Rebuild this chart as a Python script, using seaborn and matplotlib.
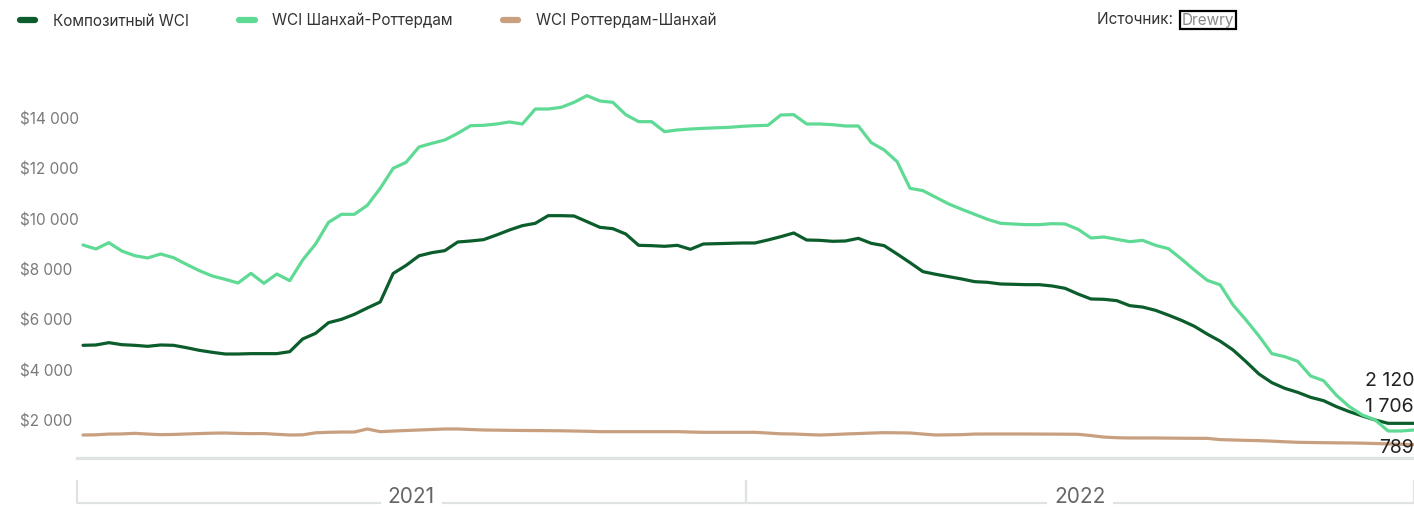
import numpy as np
import pandas as pd
import matplotlib
matplotlib.use("Agg")
import matplotlib.pyplot as plt
import seaborn as sns

# weekly WCI values, USD per 40ft container (Jan 2021 - Dec 2022)
composite = [5235, 5248, 5340, 5261, 5235, 5195, 5248, 5235, 5142, 5037,
             4958, 4891, 4891, 4905, 4905, 4905, 4984, 5486, 5710, 6132,
             6264, 6462, 6713, 6951, 8080, 8400, 8780, 8905, 8984, 9327,
             9367, 9420, 9604, 9802, 9974, 10067, 10370, 10370, 10357, 10133,
             9908, 9855, 9644, 9195, 9182, 9156, 9195, 9037, 9248, 9260,
             9274, 9288, 9288, 9406, 9538, 9684, 9406, 9393, 9354, 9367,
             9472, 9274, 9182, 8852, 8509, 8153, 8047, 7954, 7862, 7756,
             7730, 7664, 7651, 7637, 7637, 7585, 7492, 7268, 7070, 7057,
             7004, 6806, 6750, 6620, 6430, 6225, 5990, 5680, 5400, 5049,
             4588, 4099, 3756, 3531, 3373, 3175, 3043, 2805, 2607, 2436,
             2277, 2145, 2145, 2145]
shanghai_rotterdam = [9208, 9050, 9301, 8971, 8786, 8694, 8852, 8707, 8443, 8192,
                      7981, 7849, 7703, 8086, 7690, 8060, 7796, 8614, 9248, 10106,
                      10423, 10423, 10779, 11453, 12245, 12482, 13090, 13235, 13367, 13631,
                      13934, 13948, 14000, 14080, 14000, 14594, 14594, 14660, 14859, 15123,
                      14911, 14859, 14370, 14093, 14093, 13697, 13763, 13802, 13829, 13850,
                      13868, 13908, 13934, 13948, 14357, 14370, 14000, 14000, 13974, 13921,
                      13921, 13261, 12971, 12509, 11453, 11360, 11096, 10832, 10621, 10423,
                      10225, 10067, 10040, 10014, 10014, 10053, 10040, 9829, 9486, 9525,
                      9433, 9340, 9393, 9195, 9063, 8654, 8219, 7809, 7630, 6832,
                      6238, 5604, 4904, 4785, 4601, 4020, 3835, 3254, 2805, 2475,
                      2277, 1841, 1841, 1881]
rotterdam_shanghai = [1683, 1690, 1720, 1725, 1749, 1720, 1696, 1705, 1723, 1740,
                      1755, 1762, 1745, 1736, 1740, 1710, 1683, 1690, 1770, 1790,
                      1800, 1802, 1921, 1815, 1840, 1860, 1881, 1900, 1921, 1921,
                      1900, 1881, 1875, 1868, 1862, 1858, 1855, 1850, 1840, 1830,
                      1815, 1815, 1815, 1815, 1815, 1815, 1815, 1800, 1789, 1789,
                      1789, 1789, 1789, 1760, 1730, 1723, 1700, 1683, 1700, 1723,
                      1740, 1760, 1776, 1770, 1763, 1720, 1683, 1690, 1697, 1720,
                      1723, 1723, 1723, 1723, 1720, 1718, 1715, 1710, 1660, 1600,
                      1575, 1565, 1565, 1565, 1560, 1555, 1552, 1550, 1500, 1485,
                      1470, 1460, 1440, 1415, 1394, 1385, 1378, 1372, 1368, 1360,
                      1345, 1330, 1315, 1302]

series_names = ["Композитный WCI", "WCI Шанхай-Роттердам", "WCI Роттердам-Шанхай"]
series_colors = ["#0b5d2c", "#5fda94", "#c9a07f"]
end_labels = ["2 120", "1 706", "789"]
years = ["2021", "2022"]
y_ticks = [2000, 4000, 6000, 8000, 10000, 12000, 14000]

dates = pd.date_range("2021-01-07", periods=len(composite), freq="7D")
df = pd.DataFrame({"date": dates,
                   series_names[0]: composite,
                   series_names[1]: shanghai_rotterdam,
                   series_names[2]: rotterdam_shanghai})
long_df = df.melt(id_vars="date", var_name="series", value_name="value")

sns.set_style("white")
plt.rcParams["font.family"] = ["Inter", "DejaVu Sans"]

fig = plt.figure(figsize=(14.14, 5.07), dpi=100)
ax = fig.add_axes([77 / 1414, 49 / 507, 1337 / 1414, 398 / 507])

sns.lineplot(data=long_df, x="date", y="value", hue="series",
             palette=dict(zip(series_names, series_colors)),
             hue_order=series_names, linewidth=2.3, ax=ax)

ax.set_xlim(dates[0] - pd.Timedelta(days=3.25), dates[-1])
ax.set_ylim(772, 16535)
ax.set_xlabel("")
ax.set_ylabel("")
ax.set_xticks([])

ax.set_yticks(y_ticks)
ax.set_yticklabels(["$" + f"{v:,}".replace(",", " ") for v in y_ticks])
ax.tick_params(axis="y", length=0, pad=41, labelsize=11, labelcolor="#7a7a7a")
for lab in ax.get_yticklabels():
    lab.set_horizontalalignment("left")
    lab.set_verticalalignment("baseline")

for side in ["left", "right", "top"]:
    ax.spines[side].set_visible(False)
ax.spines["bottom"].set_color("#dfe4e2")
ax.spines["bottom"].set_linewidth(2.4)
ax.grid(False)

# value labels at the right end of each line
offsets = [26.9, 12.6, -5.8]
last_vals = [composite[-1], shanghai_rotterdam[-1], rotterdam_shanghai[-1]]
for txt, v, off in zip(end_labels, last_vals, offsets):
    ax.annotate(txt, xy=(dates[-1], v), xytext=(0, off), textcoords="offset points",
                ha="right", va="baseline", fontsize=14, color="#222222")

# year brackets under the axis
trans = ax.get_xaxis_transform()
bounds = [ax.get_xlim()[0], matplotlib.dates.date2num(pd.Timestamp("2022-01-01")), ax.get_xlim()[1]]
for k, yr in enumerate(years):
    x0, x1 = bounds[k], bounds[k + 1]
    ax.plot([x0, x0, x1, x1], [-0.055, -0.113, -0.113, -0.055], transform=trans,
            color="#dfe4e2", lw=1.6, clip_on=False, solid_capstyle="butt")
    ax.text((x0 + x1) / 2, -0.099, yr, transform=trans, ha="center", va="center",
            fontsize=15, color="#666666",
            bbox=dict(boxstyle="square,pad=0.35", fc="white", ec="none"))

# legend on top
leg = ax.legend(loc="upper left", bbox_to_anchor=(20 / 1414, 1 - 13 / 507),
                bbox_transform=fig.transFigure, ncol=3, frameon=False,
                fontsize=11, handlelength=1.0, handletextpad=1.15,
                columnspacing=3.3, borderpad=0, borderaxespad=0)
for h in leg.get_lines():
    h.set_linewidth(4.5)
    h.set_solid_capstyle("round")
for t in leg.get_texts():
    t.set_color("#333333")

fig.text(1097 / 1414, 1 - 20 / 507, "Источник: ", ha="left", va="center",
         fontsize=11, color="#333333")
fig.text(1182 / 1414, 1 - 20 / 507, "Drewry", ha="left", va="center",
         fontsize=11, color="#888888",
         bbox=dict(boxstyle="square,pad=0.12", fc="none", ec="black", lw=1.6))

fig.savefig("out.png", dpi=100)
